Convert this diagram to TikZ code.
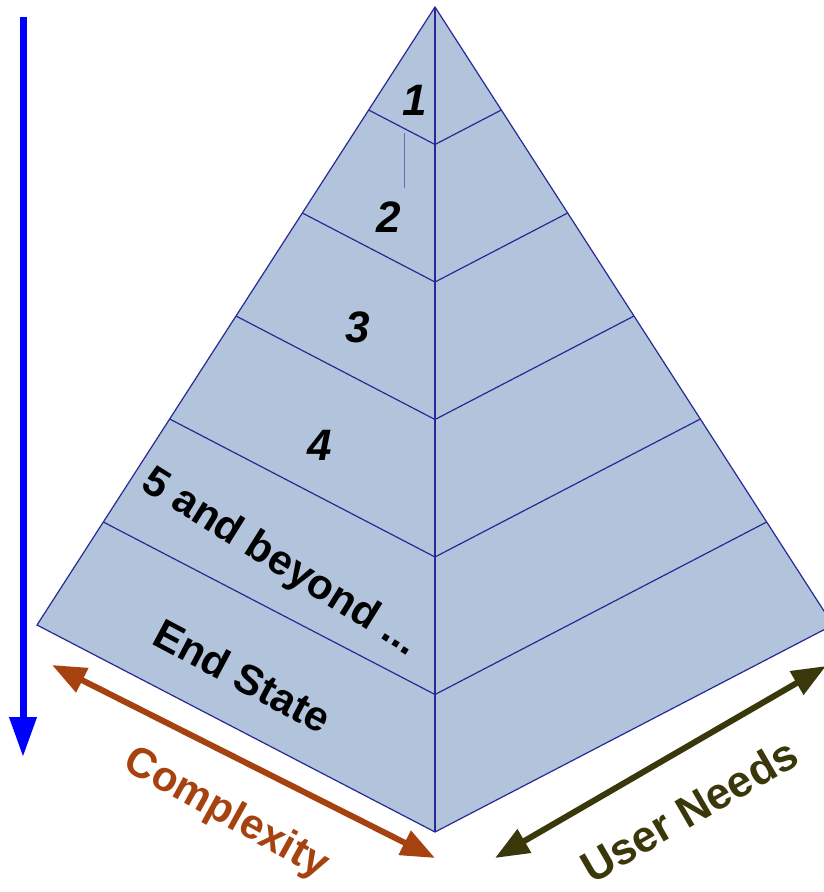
\documentclass[tikz,border=0pt]{standalone}
\usepackage{fontspec}
\setmainfont{Liberation Sans}
\usetikzlibrary{arrows.meta,calc}

\definecolor{layerfill}{RGB}{178,196,220}
\definecolor{layerline}{RGB}{40,40,150}
\definecolor{cplxbrown}{RGB}{166,66,16}
\definecolor{needsolive}{RGB}{58,56,10}

\begin{document}
\begin{tikzpicture}[x=1pt,y=-1pt,
  edge/.style={draw=layerline,line width=1.2pt},
  lbl/.style={font=\fontsize{42}{42}\selectfont\bfseries},
  num/.style={font=\fontsize{44}{44}\selectfont\bfseries\itshape},
  twoway/.style={line width=6pt,{Triangle[length=34pt,width=26pt]}-{Triangle[length=34pt,width=26pt]}}]
\useasboundingbox (0,0) rectangle (823,892);

% pyramid corners
\coordinate (top) at (435,7);
\coordinate (left) at (37,625);
\coordinate (bot) at (435,832);
\coordinate (right) at (833,625);

\fill[layerfill] (top) -- (left) -- (bot) -- (right) -- cycle;
\foreach \k in {1,...,5}
  \draw[edge] ($(top)!\k/6!(left)$) -- ($(top)!\k/6!(bot)$) -- ($(top)!\k/6!(right)$);
\draw[edge] (top) -- (left) -- (bot) -- (right) -- cycle;
\draw[edge] (top) -- (bot);
\draw[layerline!70,line width=0.8pt] (404,133) -- (404,188);

% layers
\node[num] (n1) at (415,100) {1};
\node[num] (n2) at (389,217) {2};
\node[num] (n3) at (358,327) {3};
\node[num] (n4) at (320,445) {4};
\node[lbl,rotate=-32] (beyond) at (280,563) {5 and beyond ...};
\node[lbl,rotate=-28] (endst) at (243,676) {End State};

% arrows
\coordinate (vtop) at (23,17);
\coordinate (vbot) at (23,757);
\draw[blue,line width=7pt,-{Triangle[length=40pt,width=26pt]}] (vtop) -- (vbot);

\coordinate (c1) at (52,665);
\coordinate (c2) at (435,858);
\draw[twoway,cplxbrown] (c1) -- (c2);
\node[lbl,cplxbrown,rotate=-29] (cplx) at (226,814) {Complexity};

\coordinate (u1) at (495,858);
\coordinate (u2) at (826,666);
\draw[twoway,needsolive] (u1) -- (u2);
\node[lbl,needsolive,font=\fontsize{44}{44}\selectfont\bfseries,rotate=30] (needs) at (689,810) {User Needs};
\end{tikzpicture}
\end{document}
